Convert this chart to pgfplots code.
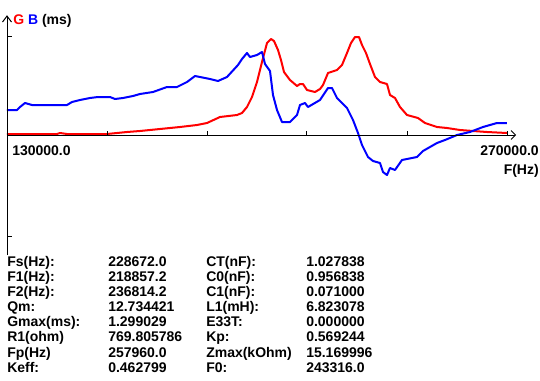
\documentclass[border=0pt]{standalone}
\usepackage{pgfplots}
\pgfplotsset{compat=1.18}
\usepackage{fontspec}
\setmainfont{Liberation Sans}
\pgfplotstableread{
f g
130000 1
144000 1
144840 2
146800 1
158000 1
160800 2
163600 3
167240 4
172840 6
178440 8
183200 10
186000 12
189640 18
194400 20
195800 22
197200 28
198600 38
200000 53
201400 73
202800 92
203920 96
204760 94
205880 85
206720 75
207560 63
209240 55
211200 49
212040 51
212880 51
214000 45
216240 43
217640 46
218480 50
219880 62
222400 65
223800 70
225200 82
226320 92
227440 98
228560 98
229400 90
230520 82
231640 71
233040 58
234440 53
236400 51
237240 40
238640 37
240040 28
242000 20
245080 17
247040 12
250400 8
253200 7
256840 5
260480 4
264400 3
270000 2
}\Gdata
\pgfplotstableread{
f b
130000 25
132800 25
133640 28
135040 32
137000 30
146800 30
148200 33
150440 35
153240 37
155480 38
158840 38
160240 36
162480 37
165280 39
167240 41
170880 43
174800 48
177600 48
180400 53
182640 59
184040 58
186840 56
189080 54
191600 58
194680 70
195800 76
197200 82
198040 78
200000 80
201400 83
202240 71
203640 64
204480 40
205600 25
207000 13
209240 13
211200 20
212040 30
213440 32
214280 28
217640 35
219880 47
221000 47
222400 37
225200 27
226880 15
228280 2
229400 -10
231080 -22
232480 -26
234440 -28
235280 -37
236400 -40
237240 -33
238640 -35
240600 -25
242000 -24
244800 -22
246480 -16
250400 -8
252640 -5
256000 0
259640 3
263280 8
267200 12
270000 12
}\Bdata
\begin{document}
\begin{tikzpicture}[x=0.75pt,y=0.75pt,
  every node/.style={font=\fontsize{10.5pt}{12pt}\selectfont\bfseries, inner sep=0pt, anchor=base west}]
\useasboundingbox (0,0) rectangle (540,380);
\begin{axis}[at={(5.25pt,93.75pt)}, anchor=south west, scale only axis,
  width=375pt, height=179.25pt,
  xmin=130000, xmax=270000, ymin=-120, ymax=119,
  hide axis, clip=false]
\addplot[red, line width=1.5pt, line join=round] table[x=f, y=g] {\Gdata};
\addplot[blue, line width=1.5pt, line join=round] table[x=f, y=b] {\Bdata};
\end{axis}
% axes
\draw[line width=0.75pt] (7,364) -- (7,125);
\draw[line width=0.75pt] (2.5,358) -- (7,364) -- (11.5,358);
\draw[line width=0.75pt] (7,344) -- (12,344);
\draw[line width=0.75pt] (7,144) -- (12,144);
\draw[line width=0.75pt] (7,245) -- (515,245);
\draw[line width=0.75pt] (511,249.5) -- (515.5,245) -- (511,240.5);
\foreach \px in {107,207,306,407,507} {\draw[line width=0.75pt] (\px,245) -- (\px,249);}
% labels
\node at (13,356) {\textcolor{red}{G} \textcolor{blue}{B} (ms)};
\node at (12,225) {130000.0};
\node[anchor=base east] at (539,225) {270000.0};
\node[anchor=base east] at (539,206) {F(Hz)};
% table
\node at (7,114) {Fs(Hz):};      \node at (108,114) {228672.0};   \node at (206,114) {CT(nF):};    \node at (306,114) {1.027838};
\node at (7,99) {F1(Hz):};       \node at (108,99) {218857.2};    \node at (206,99) {C0(nF):};     \node at (306,99) {0.956838};
\node at (7,84) {F2(Hz):};       \node at (108,84) {236814.2};    \node at (206,84) {C1(nF):};     \node at (306,84) {0.071000};
\node at (7,68.5) {Qm:};         \node at (108,68.5) {12.734421}; \node at (206,68.5) {L1(mH):};   \node at (306,68.5) {6.823078};
\node at (7,53.5) {Gmax(ms):};   \node at (108,53.5) {1.299029};  \node at (206,53.5) {E33T:};     \node at (306,53.5) {0.000000};
\node at (7,38.5) {R1(ohm)};     \node at (108,38.5) {769.805786};\node at (206,38.5) {Kp:};       \node at (306,38.5) {0.569244};
\node at (7,23) {Fp(Hz)};        \node at (108,23) {257960.0};    \node at (206,23) {Zmax(kOhm)};  \node at (306,23) {15.169996};
\node at (7,8) {Keff:};          \node at (108,8) {0.462799};     \node at (206,8) {F0:};          \node at (306,8) {243316.0};
\end{tikzpicture}
\end{document}
